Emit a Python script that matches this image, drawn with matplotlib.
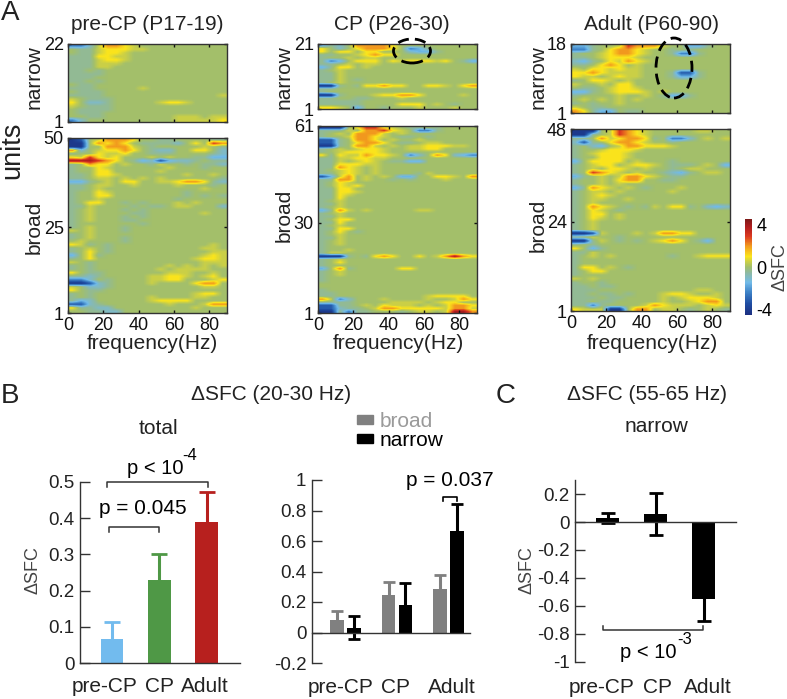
import matplotlib
matplotlib.use("Agg")
import matplotlib.pyplot as plt
import numpy as np
from matplotlib.colors import LinearSegmentedColormap
from matplotlib.lines import Line2D
from matplotlib.patches import Ellipse, Patch

plt.rcParams['font.family'] = ['Liberation Sans', 'DejaVu Sans']
W, H = 787, 699
LEVELS = {'Z': -4.2, 'Y': -3.2, 'X': -2.4, 'W': -1.6, 'V': -1.0, 'v': -0.4, '.': 0.0,
          'e': 0.5, 'y': 1.0, 'o': 2.0, 'r': 3.0, 'R': 3.9}
N_BINS = 18
FREQ_MAX = 90

# Heat maps: one string per unit (top row first), one character per 5 Hz bin
pre_narrow = ["XXVeooye", ".vveyyyee", ".vveyye", "vvvyyee", "vvveyye", "vvveee", "vvvee", "vv.v",
              "vvvv", "vvv", "vv.v", ".vv", "vvv.....e", ".vvv", "vvvv.............e.e", "e.vvv",
              "y.VVv.....eyye....v", "e.vvv", ".vvvv", ".vvv", "..vv........eee.eey", "XV..........eeeeeyy"]
pre_broad = ["ZY.eoooy..vv....vv", "ZZ.oyoy.vvvvV.y.ro", "ZZ..oooe.v.....e.v", "oV.eyyoy.vVV..yy.V",
             "v..yeey..vvv....vV", "yeryey...e.e..vvWW", "RRRroy.vWVYWVVv.vv", "v.oyy.e..ve..v.vvV",
             "v..ye......e...v..", "v..yy.....e.......", "vv.yye.......e..e.", "vv.ee.e.e.e......v",
             "WWv.e.yy..eeyooyvVWW", "vv.ee..e....e...v.", "vv.e...........e..", "v..ye........v....",
             "v..yy........v.v.v", "v..e........v.....", "v.yy..v.v...e.e...", "vve....v.vv.ee...V",
             "v.e...v.v.........", "v.e....vv......e..", "v.e...v.v.........", "v.e...vv..........",
             "v.......v.........", "v.e...v...........", "e.e...v...........", "v.e...............",
             "v.e...v...........", ".e....v...........", "yev.v...........e.", "v.e.v..........ee.",
             "v.y.v...........ee", "W.yv...........eye", "v.y...........eyye", "e.v............eee",
             "v.v........e.e.e.e", "v.v.......e.eeee..", "y.vv.......eee..e", "vvVv.....eeyye.ey",
             "XXV.v....eeyy...ey", "ZZYVv....e....yoo", "e.VVv..........ee", "y.vv...........",
             "v.v...........eyy", "v.v......e....ee.", "vWV......eyyyy.", "YYVv.......e...eoo",
             "yvvVV.........e.", "..vvVV.........."]
cp_narrow = ["WvV.ooooy", "y.V.yoooy.XWv", "y.yy.yy...VWWv", "vv..eyoyy", "v..e.ee...",
             "vXW.yyy.yeyyyey.vW", "vv.e.ee", "Wvyy.e", "v.e", "vve", "vve", "vve.v", "v.e.",
             "ZZv.vyyoyy..yye.yoy", "vv..", "v...", "ZZv...eyyooy....e", "vv..vv...e", "vvvvv..",
             "vvvvv....yyy.e.v", "yye.W..v...e...e"]
cp_broad = ["ZZZ.yrrye.vv.v", "vvve.oorye.XXv", "v.e.oooe.e...", "v..eooye.vv.v", "YYv.ooy.e..e..",
            "YYv.yooy.vv.ee.", "ZZv.ooe.e.eeyyyee", "v.e.eyye..eeyy", "v.eyyyye....", "yvyeeoyye.XV.oyVWXWW",
            "vveeyyee...", "vve.eye.vvWW", "vvyyyee...", "vvoye.e.", "v.eye.e.", "vveye.e....ve.",
            "YWeo.e.e.WW..yye.o", "vvoo.e..v.v...e..", "v.ye...", "v.yey..", "vvyy..", "vvyye.", "vvye.",
            "vvy...", "v.e...", "vve...", "v.e...", "Wvoe.e.....ee", "v.e..", "vve.", "v.yy.", "vvy.", "v.e",
            "vvyy.", "v.y.v", "v.e", "vve", "v.e", "v.e", "v..", "v..e", "vee..", "ZZZv.vyoy..y.eoRoy",
            "v.e.", "v.y.", "v.", "W.ov.....yy", "v.e", "v.e", "v..", "v..", ".", ".", "v", "vv",
            "vv..........eyyyy.", "oeXV...e....e..eoy.", "vvvv....eeee.eyy.", "YYvv.e.yeee.e.eooy", "YYVvv.eooyyyyyeooe", "ZZvXvv...v.ee.eRRoy"]
ad_narrow = ["WWv..eroooe..WWv", "XXv.yooye..v.v", "v..eyooye..vXXv", "vv.eyyye..", "VWv.yeoye.",
             "vv.yoy.e", "e.yyeyee", "yyoyeeee...vYYv", "yee.eyee...vWWv", "v.yye.e", "e..e.yy.", ".vv.eyye",
             "WWv.eyyye.e", "v....e..e.vWWv", ".e.e.e.e", "v.v..e", "e.vv..", "oyvWW.vv"]
ad_broad = ["ZZZ.eroye.....ee", "ZZv.eroye...", "vv.oeyooyv.XXV.e.e.v", "VYv.yooye..v", "v.VW.eooyyye",
            "v..eyyye.", "v.eyyye.", "v..yyye", "W.yyyy.e...v", "v.eyy.eyye.vvv.e.WW", "v.e.yye.e..v.ee", "v.roye.e..vVWv.ee.e",
            "Wv.e.eooye.vv.", "v..e.yoo..vv..", "v..e.e..", "Wvoye.e.v...e", "v.ee.e.....e", "v.eye..", "v.ee..e.", "v.e...",
            "v.oye.v.ve.yyv.VWV", "v.ye.v..", "v.yy.e..", "v.ye.e", "v.e.", "v.e.", "v.e..", "ZZYe...e.eooyy.",
            "v.e..v", "ZZve.v.v.eyoy.vW..e.ryo", "v.v...", "y.Wv..", "vve...", "v.e.e......v..eyyy.", "v....", "v..", "vyy.e.v",
            "v.yy...", "v..", "e.e.", "v..v", "vv.vv", "vvv...........ee.", "vv.vv.v...eyye..e", "vvv.vv....e.eyyye", "vv.vv.....e..eyoo.y",
            "vvXv....eoyeee.eye.", "yeeeZZ.oo.ee.v.e.v"]

colorbar_ticks = [4, 0, -4]

# Bar values
stages = ["pre-CP", "CP", "Adult"]
total_mean = [0.065, 0.23, 0.39]
total_err = [0.048, 0.072, 0.082]
total_colors = ["#72bbee", "#4f9846", "#b7201e"]
broad_mean = [0.085, 0.245, 0.285]
broad_err = [0.055, 0.085, 0.09]
narrow_mean = [0.03, 0.18, 0.665]
narrow_err = [0.075, 0.145, 0.175]
gamma_mean = [0.03, 0.06, -0.55]
gamma_err = [0.035, 0.15, 0.16]


def box(x0, y0, x1, y1):
    return [x0 / W, 1 - y1 / H, (x1 - x0) / W, (y1 - y0) / H]


def ftext(x, y, s, **kw):
    kw.setdefault('ha', 'center')
    kw.setdefault('va', 'center')
    kw.setdefault('color', '#222222')
    return fig.text(x / W, 1 - y / H, s, **kw)


def fline(xs, ys, lw=1.1, color='#333333'):
    fig.add_artist(Line2D([x / W for x in xs], [1 - y / H for y in ys], lw=lw, color=color))


def decode(rows):
    out = np.zeros((len(rows), N_BINS))
    for i, r in enumerate(rows):
        for j, c in enumerate(r[:N_BINS]):
            out[i, j] = LEVELS[c]
    return out


def up_error(ax, xs, means, errs, colors, ms):
    for x, m, e, c in zip(xs, means, errs, colors):
        ax.vlines(x, m, m + e, color=c, lw=2.2)
        ax.plot([x], [m + e], marker='_', ms=ms, mew=2, color=c, clip_on=False)


cmap = LinearSegmentedColormap.from_list('sfc', [
    (0.0, '#1c2f80'), (0.12, '#1f4ea3'), (0.24, '#3f84c8'), (0.34, '#72bbe8'),
    (0.44, '#8db9a2'), (0.5, '#a2bf6c'), (0.555, '#c9cf48'), (0.61, '#fbe51c'),
    (0.72, '#f29a1e'), (0.82, '#dc3a20'), (0.92, '#b01c1e'), (1.0, '#7c1a18')])
VMAX = 4.57

fig = plt.figure(figsize=(W / 100, H / 100), dpi=100)

panels = [
    (68, 227, 44, 122, 138, 313, pre_narrow, pre_broad, [22, 1], [50, 25, 1], 34),
    (318, 477, 44, 109, 126, 313, cp_narrow, cp_broad, [21, 1], [61, 30, 1], 284),
    (571, 730, 44, 113, 129, 311, ad_narrow, ad_broad, [18, 1], [48, 24, 1], 538),
]
titles = ["pre-CP (P17-19)", "CP (P26-30)", "Adult (P60-90)"]
title_x = [147, 392, 652]
freq_x = [152, 398, 652]
for (x0, x1, y0, y1, y2, y3, nar, bro, nt, bt, lx), ttl, tx, fx in zip(panels, titles, title_x, freq_x):
    axn = fig.add_axes(box(x0, y0, x1, y1))
    axb = fig.add_axes(box(x0, y2, x1, y3))
    for ax, rows, ticks in ((axn, nar, nt), (axb, bro, bt)):
        n = len(rows)
        im = ax.imshow(decode(rows), cmap=cmap, vmin=-VMAX, vmax=VMAX, aspect='auto',
                       extent=(0, FREQ_MAX, 1, n), interpolation='bilinear')
        ax.set_yticks(ticks)
        ax.set_ylim(1, n)
        ax.set_xlim(0, FREQ_MAX)
        ax.set_xticks([0, 20, 40, 60, 80])
        ax.tick_params(direction='in', length=2, width=1, top=True, right=True, labelsize=13,
                       pad=3, colors='#111111')
        for s in ax.spines.values():
            s.set_linewidth(1.0)
            s.set_color('#333333')
    axn.set_xticklabels([])
    axb.tick_params(axis='x', pad=3)
    ftext(fx, 343, "frequency(Hz)", fontsize=15)
    ftext(tx, 25, ttl, fontsize=15)
    ftext(lx, 77, "narrow", fontsize=15, rotation=90)
    ftext(lx, {34: 227, 284: 215, 538: 225}[lx], "broad", fontsize=15, rotation=90)
ftext(12, 150, "units", fontsize=19.5, rotation=90)
ftext(10, 13, "A", fontsize=20)
ftext(10, 396, "B", fontsize=20)
ftext(506, 396, "C", fontsize=20)

for cx, cy, ew, eh, ang in ((412, 51, 37, 24, 0), (674, 68, 36, 60, 0)):
    fig.add_artist(Ellipse((cx / W, 1 - cy / H), ew / W, eh / H, angle=ang, fill=False, ec='black',
                           lw=2.0, ls=(0, (4, 2.2)), transform=fig.transFigure))

cax = fig.add_axes(box(745, 219, 752, 315))
cb = fig.colorbar(im, cax=cax, ticks=colorbar_ticks)
cb.ax.tick_params(length=0, labelsize=13, pad=3)
cb.ax.set_yticklabels(['4', '0', '-4'])
cb.outline.set_visible(False)
ftext(780, 267, "ΔSFC", fontsize=13, rotation=90, color='#444444')


def style_bar_axes(ax):
    for s in ('top', 'right'):
        ax.spines[s].set_visible(False)
    for s in ('left', 'bottom'):
        ax.spines[s].set_color('#333333')
        ax.spines[s].set_linewidth(1.0)
    ax.tick_params(axis='y', direction='in', length=7, width=1, labelsize=13.5, pad=4, color='#333333',
                   labelcolor='#222222')
    ax.patch.set_alpha(0)


# B total: x axis pixels 80..240, y 0 at 663, 0.5 at 482
ax1 = fig.add_axes(box(80, 482, 240, 663))
pos = np.arange(3)
ax1.bar(pos, total_mean, width=0.48, color=total_colors)
up_error(ax1, pos, total_mean, total_err, total_colors, 11)
ax1.set_xlim(-0.677, 2.70)
ax1.set_ylim(0, 0.5)
ax1.set_yticks([0, 0.1, 0.2, 0.3, 0.4, 0.5], ['0', '0.1', '0.2', '0.3', '0.4', '0.5'])
ax1.set_xticks([-0.156, 1.0, 1.96], stages)
style_bar_axes(ax1)
ax1.tick_params(axis='x', length=0, labelsize=15, pad=10, labelcolor='#222222')
ftext(33, 570, "ΔSFC", fontsize=13, rotation=90, color='#444444')
ftext(271, 394, "ΔSFC (20-30 Hz)", fontsize=15)
ftext(158, 429, "total", fontsize=15)
fline([107, 107, 208, 208], [487, 482, 482, 487])
fline([109, 109, 159, 159], [532, 527, 527, 532])
ftext(155, 469, "p < 10", fontsize=14.5, color='black')
ftext(190, 456, "-4", fontsize=12, color='black')
ftext(143, 508, "p = 0.045", fontsize=15, color='black')

# B broad vs narrow: x axis 312..470, y=1 at 480, y=-0.2 at 663
ax2 = fig.add_axes(box(312, 480, 470, 663))
g = np.arange(3)
off = 0.165
ax2.bar(g - off, broad_mean, width=0.27, color='#808080', label='broad')
ax2.bar(g + off, narrow_mean, width=0.27, color='black', label='narrow')
up_error(ax2, g - off, broad_mean, broad_err, ['#808080'] * 3, 9)
ax2.errorbar(g + off, narrow_mean, yerr=narrow_err, fmt='none', ecolor='black', elinewidth=2.2,
             capsize=4.3, capthick=2)
ax2.set_xlim((312 - 345.5) / 51.5, (470 - 345.5) / 51.5)
ax2.set_ylim(-0.2, 1)
ax2.set_yticks([-0.2, 0, 0.2, 0.4, 0.6, 0.8, 1], ['-0.2', '0', '0.2', '0.4', '0.6', '0.8', '1'])
style_bar_axes(ax2)
ax2.spines['bottom'].set_position(('data', 0))
ax2.set_xticks([-0.1, 0.97, 2.07], stages)
ax2.tick_params(axis='x', length=0, labelsize=15, pad=33, labelcolor='#222222')
hs = [Patch(color='#808080', label='broad'), Patch(color='black', label='narrow')]
leg = fig.legend(handles=hs, loc='center left', bbox_to_anchor=(357 / W, 1 - 431 / H), frameon=False,
                 fontsize=15, handlelength=0.77, handleheight=0.23, handletextpad=0.33, labelspacing=0.0,
                 borderpad=0, borderaxespad=0)
leg.get_texts()[0].set_color('#9a9a9a')
ftext(450, 481, "p = 0.037", fontsize=15, color='black', ha='center')
fline([443, 443, 457, 457], [501, 497, 497, 501], lw=1.2, color='black')

# C: x axis 575..736, y=0.3 at 479, y=-1 at 661.5
ax3 = fig.add_axes(box(575, 479.5, 736, 661.5))
ax3.bar(pos, gamma_mean, width=0.48, color='black')
ax3.errorbar(pos, gamma_mean, yerr=gamma_err, fmt='none', ecolor='black', elinewidth=2.2, capsize=5.2, capthick=2)
ax3.set_xlim((575 - 607.5) / 48, (736 - 607.5) / 48)
ax3.set_ylim(-1, 0.305)
ax3.set_yticks([-1, -0.8, -0.6, -0.4, -0.2, 0, 0.2], ['-1', '-0.8', '-0.6', '-0.4', '-0.2', '0', '0.2'])
style_bar_axes(ax3)
ax3.spines['bottom'].set_position(('data', 0))
ax3.set_xticks([-0.115, 1.05, 2.1], stages)
ax3.tick_params(axis='x', length=0, labelsize=15, pad=112, labelcolor='#222222')
ftext(527, 570, "ΔSFC", fontsize=13, rotation=90, color='#444444')
ftext(647, 394, "ΔSFC (55-65 Hz)", fontsize=15)
ftext(657, 426, "narrow", fontsize=15)
fline([603, 603, 703, 703], [626, 630, 630, 626])
ftext(648, 653, "p < 10", fontsize=14.5, color='black')
ftext(685, 640, "-3", fontsize=12, color='black')

fig.savefig("out.png", dpi=100)
